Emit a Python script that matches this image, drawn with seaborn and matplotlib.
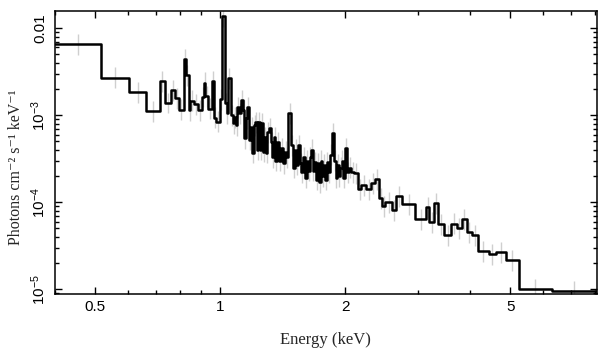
import matplotlib
matplotlib.use("Agg")
import matplotlib.pyplot as plt
import matplotlib.ticker as mticker
import numpy as np
import pandas as pd
import seaborn as sns

# bin edges (keV) and folded model flux per bin
# low-energy part: 0.4 keV up to the 1.02 keV line
edges_low = [0.40, 0.518, 0.605, 0.664, 0.715, 0.735, 0.761, 0.780, 0.797, 0.817,
             0.829, 0.840, 0.848, 0.867, 0.883, 0.904, 0.913, 0.922, 0.933, 0.956,
             0.969, 0.980, 0.998, 1.009, 1.026]
flux_low = [6.50e-3, 2.68e-3, 1.84e-3, 1.11e-3, 2.46e-3, 1.38e-3, 1.94e-3, 1.57e-3,
            1.16e-3, 4.40e-3, 2.88e-3, 1.14e-3, 1.46e-3, 1.33e-3, 1.14e-3, 1.62e-3,
            2.35e-3, 1.65e-3, 1.19e-3, 2.46e-3, 9.4e-4, 8.4e-4, 1.53e-3, 1.374e-2]

# dense part 1.03 - 2.07 keV (upper edge of each bin)
edges_mid = [1.0374, 1.0461, 1.0607, 1.0726, 1.0816, 1.0906, 1.0998, 1.1090, 1.1214,
             1.1339, 1.1434, 1.1530, 1.1627, 1.1724, 1.1855, 1.1955, 1.2055, 1.2156,
             1.2258, 1.2360, 1.2464, 1.2568, 1.2674, 1.2780, 1.2887, 1.2995, 1.3104,
             1.3250, 1.3361, 1.3473, 1.3586, 1.3700, 1.3853, 1.4008, 1.4165, 1.4323,
             1.4443, 1.4605, 1.4851, 1.4975, 1.5143, 1.5270, 1.5398, 1.5570, 1.5700,
             1.5832, 1.6009, 1.6143, 1.6278, 1.6415, 1.6552, 1.6691, 1.6831, 1.7019,
             1.7162, 1.7306, 1.7451, 1.7597, 1.7744, 1.7893, 1.8043, 1.8194, 1.8347,
             1.8552, 1.8812, 1.8969, 1.9128, 1.9288, 1.9450, 1.9613, 1.9777, 1.9998,
             2.0222, 2.0448, 2.0677]
flux_mid = [1.37e-3, 1.05e-3, 2.66e-3, 1.00e-3, 8.1e-4, 9.5e-4, 7.7e-4, 1.24e-3, 1.05e-3,
            1.49e-3, 1.14e-3, 5.4e-4, 9.2e-4, 1.24e-3, 5.2e-4, 7.3e-4, 3.7e-4, 7.7e-4,
            8.3e-4, 4.0e-4, 8.3e-4, 4.0e-4, 8.1e-4, 3.8e-4, 5.6e-4, 3.7e-4, 6.4e-4,
            7.1e-4, 4.9e-4, 3.3e-4, 5.6e-4, 3.0e-4, 4.9e-4, 3.0e-4, 4.2e-4, 2.8e-4,
            3.8e-4, 3.3e-4, 1.05e-3, 4.5e-4, 2.5e-4, 4.0e-4, 2.7e-4, 4.5e-4, 2.8e-4,
            2.2e-4, 3.3e-4, 1.9e-4, 3.0e-4, 2.3e-4, 3.3e-4, 4.0e-4, 2.3e-4, 2.9e-4,
            1.8e-4, 2.8e-4, 1.7e-4, 3.0e-4, 2.0e-4, 2.7e-4, 1.8e-4, 2.9e-4, 2.2e-4,
            3.5e-4, 6.2e-4, 3.0e-4, 1.9e-4, 2.7e-4, 2.0e-4, 2.5e-4, 3.0e-4, 1.9e-4,
            4.2e-4, 2.2e-4, 2.5e-4]

# high-energy part up to 8 keV (upper edge of each bin)
edges_high = [2.102, 2.149, 2.186, 2.247, 2.311, 2.362, 2.416, 2.457, 2.498, 2.597,
              2.656, 2.746, 2.951, 3.138, 3.191, 3.281, 3.355, 3.468, 3.606, 3.708,
              3.813, 3.920, 4.030, 4.167, 4.430, 4.606, 4.869, 5.233, 6.290, 8.07]
flux_high = [2.2e-4, 2.15e-4, 1.41e-4, 1.57e-4, 1.41e-4, 1.65e-4, 1.84e-4, 1.11e-4,
             9.0e-5, 1.00e-4, 8.1e-5, 1.17e-4, 9.5e-5, 6.4e-5, 8.8e-5, 5.9e-5, 9.7e-5,
             5.6e-5, 4.2e-5, 5.7e-5, 5.0e-5, 6.4e-5, 4.5e-5, 4.2e-5, 2.73e-5, 2.52e-5,
             2.66e-5, 2.16e-5, 1.00e-5, 9.5e-6]

err_dex = 0.12  # rough half-length of the grey data error bars

xticks = [0.5, 1, 2, 5]
xticklabels = ["0.5", "1", "2", "5"]
yticks = [1e-5, 1e-4, 1e-3, 1e-2]
yticklabels = [r"$10^{-5}$", r"$10^{-4}$", r"$10^{-3}$", "0.01"]

edges = edges_low + edges_mid + edges_high
flux = flux_low + flux_mid + flux_high
assert len(edges) == len(flux) + 1

sns.set_style("ticks")
plt.rcParams["font.family"] = ["Liberation Sans", "DejaVu Sans"]
plt.rcParams["mathtext.fontset"] = "custom"
plt.rcParams["mathtext.rm"] = "Liberation Sans"
plt.rcParams["mathtext.it"] = "Liberation Sans:italic"
plt.rcParams["mathtext.bf"] = "Liberation Sans:bold"

step_df = pd.DataFrame({"energy": edges, "flux": flux + [flux[-1]]})
centers = np.sqrt(np.array(edges[:-1]) * np.array(edges[1:]))
fl = np.array(flux)

fig, ax = plt.subplots(figsize=(6.09, 3.57), dpi=100)
fig.subplots_adjust(left=0.090, right=0.980, top=0.969, bottom=0.176)

# grey data error bars
ax.vlines(centers, fl / 10**err_dex, fl * 10**err_dex, color="#cfcfcf", lw=1.0, zorder=1)

sns.lineplot(data=step_df, x="energy", y="flux", drawstyle="steps-post",
             estimator=None, sort=False, color="black", lw=1.8, ax=ax, zorder=3)

ax.set_xscale("log")
ax.set_yscale("log")
ax.set_xlim(0.40, 8.07)
ax.set_ylim(8.8e-6, 1.57e-2)

ax.xaxis.set_major_locator(mticker.FixedLocator(xticks))
ax.xaxis.set_major_formatter(mticker.FixedFormatter(xticklabels))
ax.xaxis.set_minor_locator(mticker.LogLocator(base=10, subs=np.arange(2, 10), numticks=20))
ax.xaxis.set_minor_formatter(mticker.NullFormatter())
ax.yaxis.set_major_locator(mticker.FixedLocator(yticks))
ax.yaxis.set_major_formatter(mticker.FixedFormatter(yticklabels))
ax.yaxis.set_minor_locator(mticker.LogLocator(base=10, subs=np.arange(2, 10), numticks=20))
ax.yaxis.set_minor_formatter(mticker.NullFormatter())

ax.tick_params(which="both", direction="in", top=True, right=True, width=1.0, colors="black")
ax.tick_params(which="major", length=5)
ax.tick_params(which="minor", length=3)
ax.tick_params(axis="x", which="major", labelsize=11, pad=4)
ax.tick_params(axis="y", which="major", labelsize=11, pad=5)
for lab in ax.get_yticklabels():
    lab.set_rotation(90)
    lab.set_va("center")

for sp in ax.spines.values():
    sp.set_linewidth(1.1)
    sp.set_color("black")

ax.set_xlabel("Energy (keV)", family=["Liberation Serif", "DejaVu Serif"], fontsize=12, labelpad=13)
ax.set_ylabel("Photons cm⁻² s⁻¹ keV⁻¹", family=["Liberation Serif", "DejaVu Serif"],
              fontsize=11.5)
ax.yaxis.set_label_coords(-0.056, 0.45)

fig.savefig("out.png", dpi=100)
